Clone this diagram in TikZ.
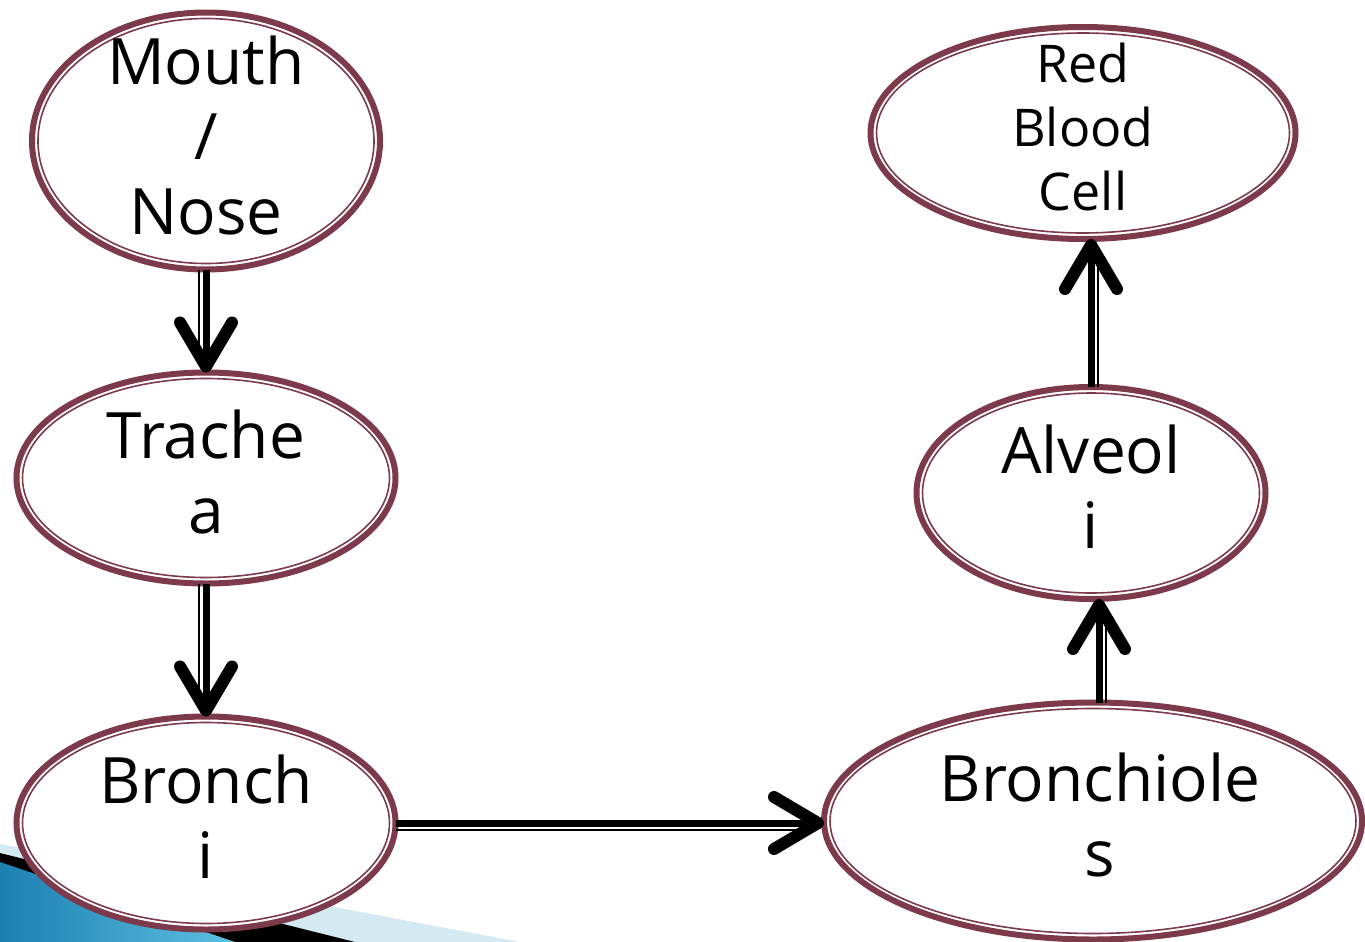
\documentclass[tikz,border=0pt]{standalone}
\usepackage{fontspec}
\setmainfont{Open Sans}
\usetikzlibrary{shapes.geometric,arrows.meta}

\definecolor{ringred}{RGB}{125,58,74}
\definecolor{bandblue}{RGB}{212,234,242}
\definecolor{deepblue}{RGB}{28,128,178}
\definecolor{skyblue}{RGB}{92,192,226}

\newcommand\pxu{0.5pt}
% organ: [text style] name, x, y, width, height, label
\newcommand\organ[7][bigtext]{
	\node[organ, minimum width=#5*\pxu, minimum height=#6*\pxu] (#2) at (#3,#4) {};
	\node[ringin, minimum width=(#5-12)*\pxu, minimum height=(#6-12)*\pxu] at (#2.center) {};
	\node[bigtext, yshift=3pt, #1] (#2-text) at (#2.center) {#7};
}

\tikzset{
	organ/.style={ellipse, draw=ringred, line width=3pt, fill=white, inner sep=0pt, outer sep=0pt},
	ringin/.style={ellipse, draw=ringred, line width=0.8pt, inner sep=0pt},
	bigtext/.style={align=center, inner sep=0pt, font=\fontsize{32}{37.5}\selectfont},
	smalltext/.style={font=\fontsize{26}{32}\selectfont},
	flow/.style={line width=3.5pt, -{Straight Barb[round, length=22pt, width=26pt, line width=6pt]}},
	flowthin/.style={line width=1.2pt, shorten >=14pt},
}

\begin{document}
\begin{tikzpicture}[x=0.5pt, y=-0.5pt]
	\useasboundingbox (0,0) rectangle (1365,942);
	\clip (0,0) rectangle (1365,942);

	% corner band
	\fill[bandblue] (0,844) -- (520,942) -- (0,942) -- cycle;
	\fill[black] (0,853) -- (355,942) -- (0,942) -- cycle;
	\shade[left color=deepblue, right color=skyblue] (0,862) -- (235,942) -- (0,942) -- cycle;

	% organs
	\organ{mouth}{206}{141}{348}{257}{Mouth\\/\\Nose}
	\organ{trachea}{206}{478}{379}{211}{Trache\\a}
	\organ{bronchi}{206}{823}{379}{213}{Bronch\\i}
	\organ[xshift=3.5pt]{bronchioles}{1093}{821}{538}{237}{Bronchiole\\s}
	\organ{alveoli}{1091}{493}{349}{212}{Alveol\\i}
	\organ[smalltext]{rbc}{1083}{133}{425}{212}{Red\\Blood\\Cell}

	% flow of air
	\draw[flow] (mouth) -- (trachea);
	\draw[flowthin, transform canvas={xshift=-3.5pt}] (mouth) -- (trachea);
	\draw[flow] (trachea) -- (bronchi);
	\draw[flowthin, transform canvas={xshift=-3.5pt}] (trachea) -- (bronchi);
	\draw[flow] (bronchi.east) -- (bronchi.east -| bronchioles.west);
	\draw[flowthin, transform canvas={yshift=-3.5pt}] (bronchi.east) -- (bronchi.east -| bronchioles.west);
	\draw[flow] ([xshift=3pt]bronchioles.north) -- ([xshift=3pt]bronchioles.north |- alveoli.south);
	\draw[flowthin, transform canvas={xshift=3.5pt}] ([xshift=3pt]bronchioles.north) -- ([xshift=3pt]bronchioles.north |- alveoli.south);
	\draw[flow] (alveoli.north) -- (alveoli.north |- rbc.south);
	\draw[flowthin, transform canvas={xshift=3.5pt}] (alveoli.north) -- (alveoli.north |- rbc.south);
\end{tikzpicture}
\end{document}
